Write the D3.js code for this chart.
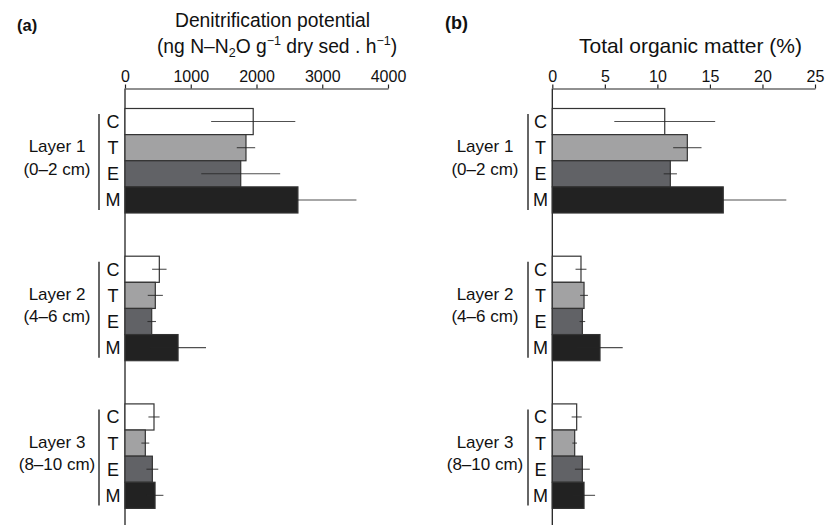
<!DOCTYPE html>
<html>
<head>
<meta charset="utf-8">
<script src="https://cdn.jsdelivr.net/npm/d3@7"></script>
<style>
  html, body { margin: 0; padding: 0; background: #fff; }
  svg { display: block; font-family: "Liberation Sans", Arial, Helvetica, sans-serif; }
</style>
</head>
<body>
<svg id="chart" width="828" height="525"></svg>
<script>
// ---------- data ----------
const layers = ["Layer 1", "Layer 2", "Layer 3"];
const depths = ["(0–2 cm)", "(4–6 cm)", "(8–10 cm)"];
const treatments = ["C", "T", "E", "M"];

// Denitrification potential (ng N–N2O g-1 dry sed . h-1)
const denitMean = [[1950, 1840, 1760, 2630], [522, 461, 406, 807], [441, 309, 416, 457]];
const denitSD   = [[640, 140, 600, 890],     [110, 115, 65, 425],  [85, 60, 90, 127]];
const denitTicks = [0, 1000, 2000, 3000, 4000];

// Total organic matter (%)
const tomMean = [[10.7, 12.85, 11.23, 16.27], [2.73, 3.02, 2.86, 4.54], [2.32, 2.13, 2.86, 3.02]];
const tomSD   = [[4.8, 1.35, 0.63, 6.0],      [0.52, 0.37, 0.27, 2.16], [0.48, 0.22, 0.71, 1.05]];
const tomTicks = [0, 5, 10, 15, 20, 25];

const fills = ["#ffffff", "#a2a2a3", "#616266", "#222222"];

// ---------- layout ----------
const svg = d3.select("#chart");
const axisY = 88.5;

const yLayer = d3.scaleBand().domain(layers).range([108.5, 508.4]).paddingInner(0.2925).paddingOuter(0);
const yTreat = d3.scaleBand().domain(treatments).range([0, yLayer.bandwidth()]).padding(0);

function panel(cfg) {
  const g = svg.append("g");
  const x = d3.scaleLinear().domain(cfg.domain).range(cfg.range);

  // top axis
  const ax = g.append("g")
    .attr("transform", `translate(0,${axisY})`)
    .call(d3.axisTop(x).tickValues(cfg.ticks).tickSize(4).tickSizeOuter(0).tickPadding(3).tickFormat(d3.format("d")));
  ax.select(".domain").attr("stroke", "#222").attr("stroke-width", 1.2);
  ax.selectAll(".tick line").attr("stroke", "#222").attr("stroke-width", 1.2);
  ax.selectAll(".tick text").attr("font-size", 16).attr("fill", "#111")
    .attr("font-family", "Liberation Sans, Arial, sans-serif");

  // vertical baseline
  g.append("line")
    .attr("x1", x(0)).attr("x2", x(0))
    .attr("y1", axisY).attr("y2", 525)
    .attr("stroke", "#222").attr("stroke-width", 1.3);

  layers.forEach((layer, li) => {
    const y0 = yLayer(layer);
    const gg = g.append("g").attr("transform", `translate(0,${y0})`);
    const rows = treatments.map((t, ti) => ({ t, ti, m: cfg.mean[li][ti], s: cfg.sd[li][ti] }));

    gg.selectAll("rect").data(rows).enter().append("rect")
      .attr("x", x(0))
      .attr("y", d => yTreat(d.t))
      .attr("width", d => x(d.m) - x(0))
      .attr("height", yTreat.bandwidth())
      .attr("fill", d => fills[d.ti])
      .attr("stroke", "#333")
      .attr("stroke-width", 1.2);

    gg.selectAll("line.err").data(rows).enter().append("line")
      .attr("class", "err")
      .attr("x1", d => x(d.m - d.s))
      .attr("x2", d => x(d.m + d.s))
      .attr("y1", d => yTreat(d.t) + yTreat.bandwidth() / 2)
      .attr("y2", d => yTreat(d.t) + yTreat.bandwidth() / 2)
      .attr("stroke", "#242424")
      .attr("stroke-opacity", 0.8)
      .attr("stroke-width", 1.1);

    // treatment letters
    gg.selectAll("text.tr").data(rows).enter().append("text")
      .attr("class", "tr")
      .attr("x", cfg.letterX)
      .attr("y", d => yTreat(d.t) + yTreat.bandwidth() / 2 + 6.5)
      .attr("text-anchor", "middle")
      .attr("font-size", 18)
      .attr("fill", "#111")
      .text(d => d.t);

    // bracket line
    gg.append("line")
      .attr("x1", cfg.bracketX).attr("x2", cfg.bracketX)
      .attr("y1", 5.5).attr("y2", yLayer.bandwidth() - 3)
      .attr("stroke", "#333").attr("stroke-width", 1.5);

    // layer labels
    const cy = yLayer.bandwidth() / 2;
    gg.append("text")
      .attr("x", cfg.labelX).attr("y", cy - 8.5)
      .attr("text-anchor", "middle").attr("font-size", 17).attr("fill", "#111")
      .text(layer);
    gg.append("text")
      .attr("x", cfg.labelX).attr("y", cy + 14)
      .attr("text-anchor", "middle").attr("font-size", 17).attr("fill", "#111")
      .text(depths[li]);
  });
  return x;
}

panel({ domain: [0, 4000], range: [125, 388], ticks: denitTicks, mean: denitMean, sd: denitSD,
        letterX: 113, bracketX: 99, labelX: 57 });
panel({ domain: [0, 25], range: [552.3, 815], ticks: tomTicks, mean: tomMean, sd: tomSD,
        letterX: 540.5, bracketX: 528, labelX: 485 });

// panel letters
svg.append("text").attr("x", 17).attr("y", 30.5).attr("font-size", 16.5).attr("font-weight", "bold")
  .attr("fill", "#111").text("(a)");
svg.append("text").attr("x", 445).attr("y", 29).attr("font-size", 18).attr("font-weight", "bold")
  .attr("fill", "#111").text("(b)");

// panel (a) title
svg.append("text").attr("x", 272.5).attr("y", 26.5).attr("text-anchor", "middle")
  .attr("font-size", 19.3).attr("fill", "#111").text("Denitrification potential");
const t2 = svg.append("text").attr("x", 277).attr("y", 52.5).attr("text-anchor", "middle")
  .attr("font-size", 19.3).attr("fill", "#111");
t2.append("tspan").text("(ng N–N");
t2.append("tspan").attr("font-size", 12.5).attr("dy", 4).text("2");
t2.append("tspan").attr("dy", -4).text("O g");
t2.append("tspan").attr("font-size", 12.5).attr("dy", -8).text("−1");
t2.append("tspan").attr("dy", 8).text(" dry sed . h");
t2.append("tspan").attr("font-size", 12.5).attr("dy", -8).text("−1");
t2.append("tspan").attr("dy", 8).text(")");

// panel (b) title
svg.append("text").attr("x", 690.5).attr("y", 53).attr("text-anchor", "middle")
  .attr("font-size", 21).attr("fill", "#111").text("Total organic matter (%)");
</script>
</body>
</html>
